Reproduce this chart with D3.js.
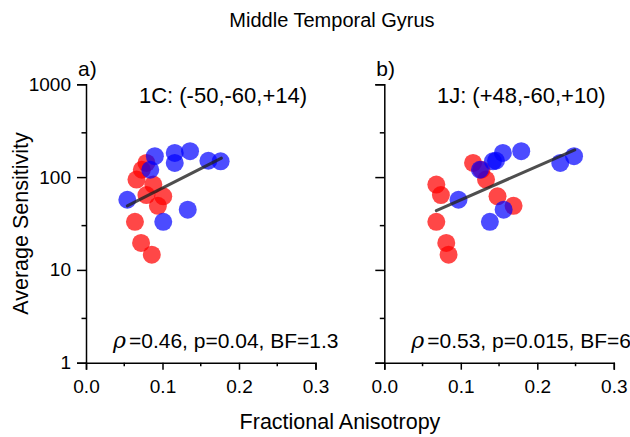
<!DOCTYPE html>
<html>
<head>
<meta charset="utf-8">
<script src="https://cdn.jsdelivr.net/npm/d3@7"></script>
<style>
  body { margin: 0; background: #fff; }
  svg { font-family: "Liberation Sans", Arial, sans-serif; }
</style>
</head>
<body>
<div id="chart"></div>
<script>
// sensitivity per subject (same in both panels), FA per panel
const sensRed = [142, 120, 94, 83, 64, 62, 49, 33, 19.5, 14.6];
const faRedA = [0.079, 0.073, 0.066, 0.088, 0.079, 0.101, 0.094, 0.064, 0.072, 0.086];
const faRedB = [0.116, 0.127, 0.133, 0.068, 0.074, 0.148, 0.169, 0.068, 0.081, 0.084];

const sensBlue = [190, 182, 168, 150, 148, 142, 120, 57, 44.5, 33];
const faBlueA = [0.136, 0.116, 0.090, 0.160, 0.176, 0.116, 0.084, 0.054, 0.133, 0.101];
const faBlueB = [0.179, 0.155, 0.248, 0.146, 0.142, 0.230, 0.125, 0.097, 0.156, 0.138];

// fit line ends
const fitFaA = [0.054, 0.177], fitSensA = [49, 160];
const fitFaB = [0.068, 0.249], fitSensB = [43.5, 197];

const xTicks = [0, 0.1, 0.2, 0.3];
const xMinor = [0.05, 0.15, 0.25];
const yTicks = [1, 10, 100, 1000];
const yMinor = [3, 30, 300];

const panels = [
  {letter: "a)", title: "1C: (-50,-60,+14)", stats: ["=0.46, p=0.04, BF=1.3"],
   faRed: faRedA, faBlue: faBlueA, fitFa: fitFaA, fitSens: fitSensA, left: 86, labels: true},
  {letter: "b)", title: "1J: (+48,-60,+10)", stats: ["=0.53, p=0.015, BF=6"],
   faRed: faRedB, faBlue: faBlueB, fitFa: fitFaB, fitSens: fitSensB, left: 384.3, labels: false}
];

const W = 630, H = 437;
const plotTop = 84.3, plotBottom = 362.7, plotW = 229.5;

const svg = d3.select("#chart").append("svg")
  .attr("width", W).attr("height", H);

const y = d3.scaleLog().domain([1, 1000]).range([plotBottom, plotTop]);

svg.append("text").attr("x", 332).attr("y", 27)
  .attr("text-anchor", "middle").attr("font-size", 20).text("Middle Temporal Gyrus");

svg.append("text").attr("transform", `translate(28,${(plotTop + plotBottom) / 2}) rotate(-90)`)
  .attr("text-anchor", "middle").attr("font-size", 21.5).text("Average Sensitivity");

svg.append("text").attr("x", 340).attr("y", 429)
  .attr("text-anchor", "middle").attr("font-size", 21.5).text("Fractional Anisotropy");

panels.forEach(p => {
  const x = d3.scaleLinear().domain([0, 0.3]).range([p.left, p.left + plotW]);
  const g = svg.append("g");

  // axes
  const xAxis = d3.axisBottom(x).tickValues(xTicks).tickSize(7).tickSizeOuter(7)
    .tickFormat(d3.format(".1f"));
  const gx = g.append("g").attr("transform", `translate(0,${plotBottom})`).call(xAxis);
  gx.selectAll("text").attr("font-size", 19).attr("fill", "#000").attr("dy", "1.05em");
  gx.selectAll("line, path").attr("stroke", "#000").attr("stroke-width", 1.5);
  gx.selectAll(".minor").data(xMinor).enter().append("line")
    .attr("x1", d => x(d)).attr("x2", d => x(d)).attr("y1", 0).attr("y2", 3.5)
    .attr("stroke", "#000").attr("stroke-width", 1.5);

  const yAxis = d3.axisLeft(y).tickValues(yTicks).tickSize(9).tickSizeOuter(9)
    .tickFormat(p.labels ? d3.format("d") : "");
  const gy = g.append("g").attr("transform", `translate(${p.left},0)`).call(yAxis);
  gy.selectAll("text").attr("font-size", 19).attr("fill", "#000").attr("x", -15);
  gy.selectAll("line, path").attr("stroke", "#000").attr("stroke-width", 1.5);
  gy.selectAll(".minor").data(yMinor).enter().append("line")
    .attr("x1", 0).attr("x2", -4.5).attr("y1", d => y(d)).attr("y2", d => y(d))
    .attr("stroke", "#000").attr("stroke-width", 1.5);

  // labels
  g.append("text").attr("x", p.left - 8).attr("y", 76).attr("font-size", 21).text(p.letter);
  g.append("text").attr("x", p.left + 137).attr("y", 103).attr("text-anchor", "middle")
    .attr("font-size", 22).text(p.title);
  const st = g.append("text").attr("x", p.left + 27).attr("y", 348).attr("font-size", 21);
  st.append("tspan").attr("font-family", "'DejaVu Serif', serif").attr("font-style", "italic")
    .attr("font-size", 22).text("ρ");
  st.append("tspan").attr("dx", 3).text(p.stats[0]);

  // points
  g.selectAll(".red").data(sensRed).enter().append("circle")
    .attr("cx", (d, i) => x(p.faRed[i])).attr("cy", d => y(d)).attr("r", 9)
    .attr("fill", "#ff0000").attr("fill-opacity", 0.72);
  g.selectAll(".blue").data(sensBlue).enter().append("circle")
    .attr("cx", (d, i) => x(p.faBlue[i])).attr("cy", d => y(d)).attr("r", 9)
    .attr("fill", "#0000ff").attr("fill-opacity", 0.7);

  // fit line
  const line = d3.line().x(d => x(d[0])).y(d => y(d[1]));
  g.append("path").datum(d3.zip(p.fitFa, p.fitSens)).attr("d", line)
    .attr("stroke", "#222").attr("stroke-opacity", 0.8).attr("stroke-width", 3)
    .attr("stroke-linecap", "round").attr("fill", "none");
});
</script>
</body>
</html>
